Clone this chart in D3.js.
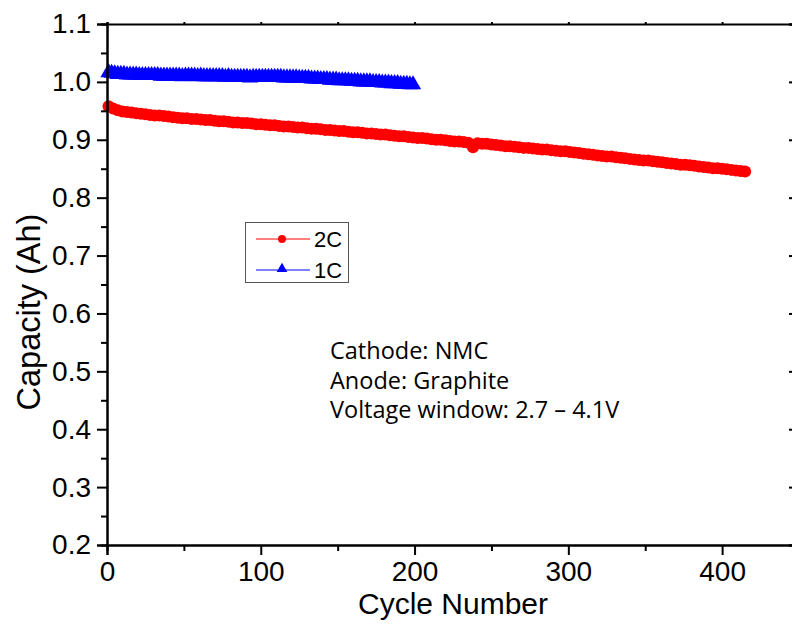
<!DOCTYPE html>
<html>
<head>
<meta charset="utf-8">
<script src="https://d3js.org/d3.v7.min.js"></script>
<style>
  body { margin: 0; background: #fff; overflow: hidden; }
  svg { display: block; }
  .tick-label { font-family: "Liberation Sans", Arial, sans-serif; font-size: 28px; fill: #000; }
  .axis-title { font-family: "Liberation Sans", Arial, sans-serif; font-size: 30px; fill: #000; }
  .note { font-family: "Open Sans", sans-serif; font-size: 23.5px; fill: #000; }
  .legend-text { font-family: "Liberation Sans", Arial, sans-serif; font-size: 22px; fill: #000; }
</style>
</head>
<body>
<script>
// 2C data, read every 3 cycles starting at cycle 1
const cycles2C = d3.range(1, 416, 3)
const capacity2C = [
  0.958, 0.954, 0.951, 0.949, 0.948, 0.947, 0.946, 0.945, 0.944, 0.943,
  0.942, 0.942, 0.941, 0.940, 0.939, 0.938, 0.937, 0.937, 0.936, 0.936,
  0.935, 0.934, 0.934, 0.933, 0.932, 0.932, 0.931, 0.930, 0.930, 0.929,
  0.929, 0.928, 0.927, 0.927, 0.926, 0.925, 0.925, 0.924, 0.923, 0.923,
  0.922, 0.921, 0.921, 0.920, 0.919, 0.919, 0.918, 0.917, 0.917, 0.916,
  0.915, 0.915, 0.914, 0.913, 0.913, 0.912, 0.911, 0.911, 0.910, 0.909,
  0.909, 0.908, 0.907, 0.906, 0.906, 0.905, 0.904, 0.903, 0.903, 0.902,
  0.901, 0.900, 0.900, 0.899, 0.898, 0.897, 0.897, 0.896, 0.895, 0.887,
  0.894, 0.893, 0.893, 0.892, 0.891, 0.890, 0.889, 0.889, 0.888, 0.887,
  0.886, 0.886, 0.885, 0.884, 0.883, 0.883, 0.882, 0.881, 0.880, 0.880,
  0.879, 0.878, 0.877, 0.876, 0.875, 0.874, 0.873, 0.872, 0.871, 0.871,
  0.870, 0.869, 0.868, 0.867, 0.866, 0.865, 0.864, 0.864, 0.863, 0.862,
  0.861, 0.860, 0.859, 0.858, 0.857, 0.857, 0.856, 0.855, 0.854, 0.853,
  0.852, 0.851, 0.851, 0.850, 0.849, 0.848, 0.847, 0.846, 0.845
]

// 1C data, read every 2 cycles starting at cycle 1
const cycles1C = d3.range(1, 200, 2)
const capacity1C = [
  1.018, 1.017, 1.016, 1.015, 1.015, 1.015, 1.014, 1.014, 1.014, 1.014,
  1.013, 1.013, 1.013, 1.013, 1.013, 1.013, 1.013, 1.012, 1.012, 1.012,
  1.012, 1.012, 1.012, 1.012, 1.011, 1.012, 1.012, 1.012, 1.012, 1.011,
  1.012, 1.011, 1.011, 1.011, 1.011, 1.011, 1.011, 1.011, 1.010, 1.011,
  1.010, 1.010, 1.010, 1.010, 1.010, 1.010, 1.009, 1.010, 1.010, 1.010,
  1.010, 1.010, 1.010, 1.010, 1.010, 1.010, 1.010, 1.009, 1.009, 1.009,
  1.009, 1.009, 1.008, 1.008, 1.008, 1.008, 1.007, 1.007, 1.007, 1.006,
  1.006, 1.006, 1.005, 1.005, 1.005, 1.004, 1.004, 1.004, 1.004, 1.003,
  1.003, 1.003, 1.002, 1.002, 1.002, 1.002, 1.001, 1.001, 1.001, 1.000,
  1.000, 1.000, 0.999, 0.999, 0.999, 0.998, 0.998, 0.998, 0.997, 0.997
]

const xTicks = [0, 100, 200, 300, 400]
const xMinorTicks = [50, 150, 250, 350, 450]
const yTicks = [0.2, 0.3, 0.4, 0.5, 0.6, 0.7, 0.8, 0.9, 1.0, 1.1]
const yMinorTicks = [0.25, 0.35, 0.45, 0.55, 0.65, 0.75, 0.85, 0.95, 1.05]
const notes = ["Cathode: NMC", "Anode: Graphite", "Voltage window: 2.7 \u2013 4.1V"]

let w = 792
let h = 624
let padLeft = 107, padRight = 799, padTop = 24, padBottom = 545

let svg = d3.select("body")
  .append("svg")
  .attr("width", w)
  .attr("height", h)

let x = d3.scaleLinear().domain([0, 450]).range([padLeft, padRight])
let y = d3.scaleLinear().domain([0.2, 1.1]).range([padBottom, padTop])

// series: thin line under markers
let series = [
  { name: "2C", xs: cycles2C, ys: capacity2C, color: "#ff0000", shape: "circle" },
  { name: "1C", xs: cycles1C, ys: capacity1C, color: "#0000ff", shape: "triangle" }
]

series.forEach(s => {
  let pts = s.ys.map((v, i) => [s.xs[i], v])
  svg.append("path")
    .datum(pts)
    .attr("fill", "none")
    .attr("stroke", s.color)
    .attr("stroke-width", 1)
    .attr("d", d3.line().x(d => x(d[0])).y(d => y(d[1])))

  if (s.shape === "circle") {
    svg.selectAll(".m" + s.name)
      .data(pts)
      .enter()
      .append("circle")
      .attr("cx", d => x(d[0]))
      .attr("cy", d => y(d[1]))
      .attr("r", 6)
      .attr("fill", s.color)
  } else {
    svg.selectAll(".m" + s.name)
      .data(pts)
      .enter()
      .append("path")
      .attr("d", d3.symbol().type(d3.symbolTriangle).size(115))
      .attr("transform", d => "translate(" + x(d[0]) + "," + (y(d[1]) + 1) + ")")
      .attr("fill", s.color)
  }
})

// axes: bottom and left with outward ticks, top and right mirrored
let bottomAxis = d3.axisBottom(x).tickValues(xTicks).tickSize(10).tickPadding(6).tickFormat(d3.format("d"))
svg.append("g")
  .attr("transform", "translate(0," + padBottom + ")")
  .call(bottomAxis)

let bottomMinor = d3.axisBottom(x).tickValues(xMinorTicks).tickSize(6).tickFormat("")
svg.append("g").attr("transform", "translate(0," + padBottom + ")").call(bottomMinor)

let leftAxis = d3.axisLeft(y).tickValues(yTicks).tickSize(10).tickPadding(6).tickFormat(d3.format(".1f"))
svg.append("g")
  .attr("transform", "translate(" + padLeft + ",0)")
  .call(leftAxis)

let leftMinor = d3.axisLeft(y).tickValues(yMinorTicks).tickSize(6).tickFormat("")
svg.append("g").attr("transform", "translate(" + padLeft + ",0)").call(leftMinor)

let topAxis = d3.axisTop(x).tickValues(xTicks.concat(xMinorTicks)).tickSize(2).tickFormat("")
svg.append("g").attr("transform", "translate(0," + padTop + ")").call(topAxis)

let rightAxis = d3.axisRight(y).tickValues(yTicks).tickSize(-10).tickFormat("")
svg.append("g").attr("transform", "translate(" + padRight + ",0)").call(rightAxis)
let rightMinor = d3.axisRight(y).tickValues(yMinorTicks).tickSize(-6).tickFormat("")
svg.append("g").attr("transform", "translate(" + padRight + ",0)").call(rightMinor)

svg.selectAll(".domain").attr("stroke", "#000").attr("stroke-width", 2)
svg.selectAll(".tick line").attr("stroke", "#000").attr("stroke-width", 2)
svg.selectAll("g").attr("font-size", null).attr("font-family", null)
svg.selectAll(".tick text").attr("class", "tick-label")

// axis titles
svg.append("text")
  .attr("class", "axis-title")
  .attr("x", 453)
  .attr("y", 614)
  .attr("text-anchor", "middle")
  .text("Cycle Number")

svg.append("text")
  .attr("class", "axis-title")
  .style("font-size", "32.5px")
  .attr("transform", "translate(40," + 312 + ") rotate(-90)")
  .attr("text-anchor", "middle")
  .text("Capacity (Ah)")

// annotation
svg.selectAll(".note")
  .data(notes)
  .enter()
  .append("text")
  .attr("class", "note")
  .attr("x", 330)
  .attr("y", (d, i) => 359 + i * 29.5)
  .text(d => d)

// legend
let legend = svg.append("g")
legend.append("rect")
  .attr("x", 245.5)
  .attr("y", 222.5)
  .attr("width", 103)
  .attr("height", 60)
  .attr("fill", "#fff")
  .attr("stroke", "#555")
  .attr("stroke-width", 1)

series.forEach((s, i) => {
  let ly = 239 + i * 31
  legend.append("line")
    .attr("x1", 256).attr("x2", 310)
    .attr("y1", ly).attr("y2", ly)
    .attr("stroke", s.color)
    .attr("stroke-width", 1)
  if (s.shape === "circle") {
    legend.append("circle").attr("cx", 282).attr("cy", ly).attr("r", 4).attr("fill", s.color)
  } else {
    legend.append("path")
      .attr("d", d3.symbol().type(d3.symbolTriangle).size(50))
      .attr("transform", "translate(282," + (ly - 1) + ")")
      .attr("fill", s.color)
  }
  legend.append("text")
    .attr("class", "legend-text")
    .attr("x", 314)
    .attr("y", ly + 8)
    .text(s.name)
})
</script>
</body>
</html>
